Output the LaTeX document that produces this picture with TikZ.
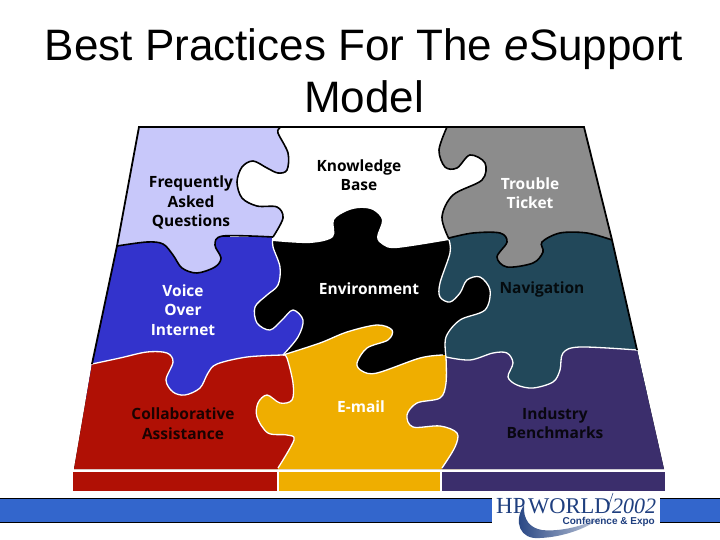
\documentclass[tikz,border=0pt]{standalone}
\usepackage{fontspec}
\setmainfont{Liberation Sans}
\newfontfamily\lblfont{Open Sans}
\newfontfamily\logoserif{Liberation Serif}
\definecolor{cFaq}{HTML}{C8C8FA}
\definecolor{cVoice}{HTML}{3333CC}
\definecolor{cTrouble}{HTML}{8C8C8C}
\definecolor{cNav}{HTML}{22485A}
\definecolor{cCollab}{HTML}{B01005}
\definecolor{cMail}{HTML}{EFAE00}
\definecolor{cInd}{HTML}{3B2E6C}
\definecolor{cBand}{HTML}{3366CC}
\definecolor{cLogo}{HTML}{1F3F7F}
\tikzset{
  crv/.style={smooth,tension=.55},
  titletext/.style={font=\fontsize{44}{52}\selectfont,align=center,text=black,inner sep=0pt},
  lbl/.style={font=\lblfont\bfseries\fontsize{15.5}{19.5}\selectfont,align=center,inner sep=0pt},
  blackedge/.style={draw=black,line width=1.6pt},
  whiteedge/.style={draw=white,line width=1.3pt},
  logotext/.style={text=cLogo,inner sep=0pt,anchor=base west},
}
% shared boundaries of the puzzle pieces (pixel coordinates)
\def\sFK#1{#1 plot[crv] coordinates {(280,128) (278,133) (288,153) (287,170) (278,173) (267,168) (253,161) (242,167) (237,182) (242,198) (257,206) (277,207) (283,218) (273,237)}}
\def\sFV#1{#1 plot[crv] coordinates {(273,237) (223,236) (215,245) (221,258) (215,267) (197,273) (182,268) (173,255) (163,244) (147,242) (117,246)}}
\def\sKE#1{#1 plot[crv] coordinates {(273,241) (310,243) (333,237) (334,220) (347,211) (360,208) (373,210) (382,220) (377,237) (383,245) (397,248) (449,240)}}
\def\sKT#1{#1 plot[crv] coordinates {(447,127) (439,150) (445,167) (457,168) (470,155) (485,163) (482,180) (453,195) (442,217) (449,239)}}
\def\sTN#1{#1 plot[crv] coordinates {(449,238) (473,233) (500,233) (507,242) (497,257) (507,267) (533,263) (543,252) (542,242) (560,233) (587,233) (612,240)}}
\def\sVE#1{#1 plot[crv] coordinates {(273,237) (273,247) (280,267) (278,285) (267,295) (255,307) (257,323) (270,330) (282,320) (293,310) (303,320) (298,337) (283,355)}}
\def\sVC#1{#1 plot[crv] coordinates {(92,364) (120,358) (147,352) (167,353) (173,362) (166,380) (173,392) (185,395) (200,388) (208,373) (217,364) (247,357) (283,355)}}
\def\sCM#1{#1 plot[crv] coordinates {(283,355) (287,358) (293,383) (292,400) (280,403) (267,395) (258,403) (257,417) (268,433) (287,435) (294,440) (278,468)}}
\def\sME#1{#1 plot[crv] coordinates {(283,355) (320,343) (347,332) (377,325) (392,330) (388,340) (367,348) (357,363) (362,371) (377,373) (420,358) (443,355)}}
\def\sMI#1{#1 plot[crv] coordinates {(442,468) (455,447) (457,433) (440,426) (413,427) (407,415) (417,403) (440,398) (446,383) (446,357)}}
\def\sNE#1{#1 plot[crv] coordinates {(449,240) (450,253) (440,283) (440,297) (450,302) (460,293) (467,280) (480,277) (490,290) (485,310) (460,320) (446,337) (446,357)}}
\def\sNI#1{#1 plot[crv] coordinates {(446,357) (470,360) (493,353) (507,353) (513,363) (508,377) (517,385) (533,388) (553,382) (560,370) (563,353) (580,347) (637,350)}}
\begin{document}
\begin{tikzpicture}[x=1pt,y=-1pt]
\useasboundingbox (0,0) rectangle (720,540);
\fill[white] (0,0) rectangle (720,540);
% title
\node[titletext] (title) at (364,71) {Best Practices For The \textit{e}Support\\Model};
% puzzle face
\begin{scope}
\clip (139,127) -- (584,127) -- (612,240) -- (637,350) -- (664,469) -- (74,469) -- (92,364) -- (117,246) -- cycle;
\fill[black] (0,100) rectangle (720,480);
\fill[white] \sKE{} -- (490,240) -- (490,100) -- (230,100) -- (230,241) -- cycle;
\fill[cVoice] \sVE{} -- (283,400) -- (0,400) -- (0,237) -- cycle;
\fill[cMail] \sME{} -- (460,355) -- (460,480) -- (250,480) -- (250,395) -- cycle;
\fill[cCollab] \sVC{} \sCM{--} -- (276,472) -- (0,472) -- (0,364) -- cycle;
\fill[cFaq] \sFK{} \sFV{--} -- (0,246) -- (0,100) -- (280,100) -- cycle;
\fill[cNav] \sNE{} -- (446,395) -- (700,395) -- (700,233) -- (449,233) -- cycle;
\fill[cTrouble] \sKT{} \sTN{--} -- (700,240) -- (700,100) -- (447,100) -- cycle;
\fill[cInd] \sMI{} \sNI{--} -- (700,350) -- (700,480) -- (442,480) -- cycle;
% white seams
\path[whiteedge] \sVE{};
\path[whiteedge] \sVC{};
\path[whiteedge] \sCM{};
\path[whiteedge] \sME{};
\path[whiteedge] \sMI{};
\path[whiteedge] \sNE{};
\path[whiteedge] \sNI{};
% black seams
\path[blackedge] \sFK{};
\path[blackedge] \sFV{};
\path[blackedge] \sKT{};
\path[blackedge] \sTN{};
\end{scope}
% outer black outline
\draw[black,line width=1.8pt,line join=miter] (92,364) -- (117,246) -- (139,127) -- (584,127) -- (612,240) -- (637,350);
% front edge of the puzzle
\fill[cCollab] (73,471.5) rectangle (277,491);
\fill[cMail] (279,471.5) rectangle (440,491);
\fill[cInd] (442,471.5) rectangle (665,491);
% labels
\node[lbl,text=black] (faq) at (191,202.5) {Frequently\\Asked\\Questions};
\node[lbl,text=black] (kb) at (359,175) {Knowledge\\Base};
\node[lbl,text=white] (tt) at (530,193) {Trouble\\Ticket};
\node[lbl,text=white] (voip) at (183,310) {Voice\\Over\\Internet};
\node[lbl,text=white] (env) at (369,289) {Environment};
\node[lbl,text=black!85!cNav] (nav) at (542,289) {Navigation};
\node[lbl,text=black!85!cCollab] (collab) at (183,423.5) {Collaborative\\Assistance};
\node[lbl,text=white] (mail) at (361,407) {E-mail};
\node[lbl,text=black!85!cInd] (ind) at (555,423) {Industry\\Benchmarks};
% footer band
\filldraw[fill=cBand,draw=black,line width=.8pt] (-2,498.5) rectangle (722,522.5);
\fill[white] (492,495) rectangle (660,526);
% logo
\shade[left color=cLogo,right color=cLogo!25!white] (524,505) .. controls (513,522) and (520,540) .. (540,538) .. controls (565,537) and (590,527) .. (603,516) .. controls (585,526) and (560,532) .. (542,530) .. controls (530,528) and (523,520) .. (524,505) -- cycle;
\draw[cLogo,line width=.6pt] (613,493) -- (608,508);
\node[logotext,font=\logoserif\fontsize{23}{23}\selectfont] (hp) at (496,513) {HP};
\node[logotext,font=\logoserif\fontsize{22.5}{23}\selectfont] (world) at (528,513) {WORLD};
\node[logotext,font=\logoserif\itshape\fontsize{22}{23}\selectfont] (year) at (612,513) {2002};
\node[font=\bfseries\fontsize{10}{10}\selectfont,text=cLogo,inner sep=0pt,anchor=base east] (conf) at (655,524) {Conference \& Expo};
\end{tikzpicture}
\end{document}
